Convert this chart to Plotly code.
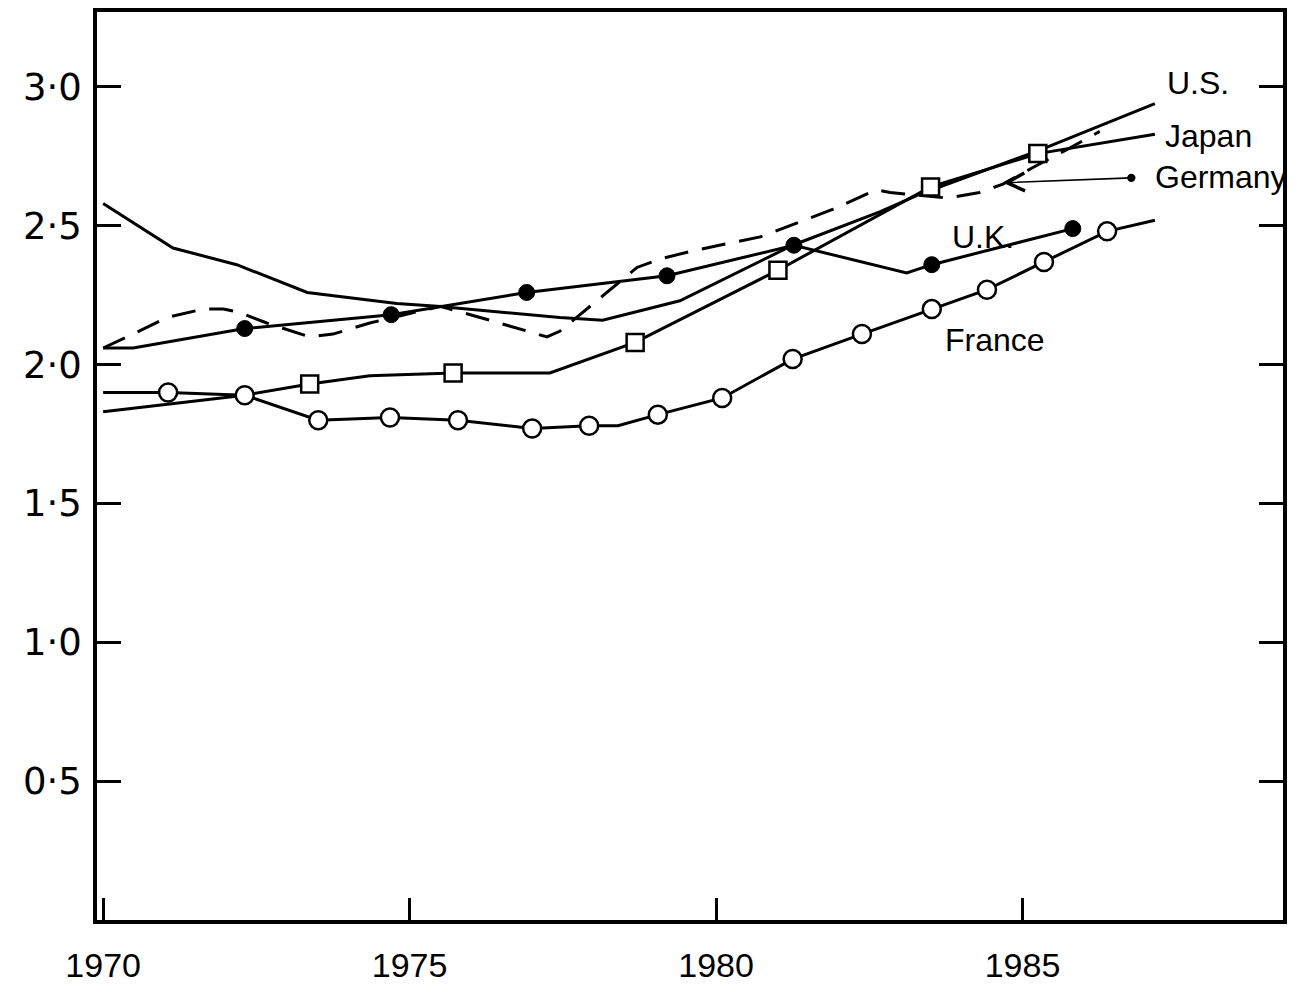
import plotly.graph_objects as go

# ---- data (decimal years, ratio values) ----
us_x = [1970.0, 1971.14, 1972.18, 1973.33, 1974.79, 1975.45, 1977.45, 1978.15, 1979.41,
        1981.25, 1982.67, 1983.28, 1985.25, 1987.16]
us_y = [2.58, 2.42, 2.36, 2.26, 2.22, 2.21, 2.17, 2.16, 2.23,
        2.43, 2.55, 2.61, 2.77, 2.94]

japan_x = [1970.0, 1972.31, 1973.37, 1974.35, 1975.71, 1977.29, 1978.68, 1981.01, 1983.50, 1985.25, 1987.16]
japan_y = [1.83, 1.89, 1.93, 1.96, 1.97, 1.97, 2.08, 2.34, 2.64, 2.76, 2.83]
japan_marker_x = [1973.37, 1975.71, 1978.68, 1981.01, 1983.50, 1985.25]
japan_marker_y = [1.93, 1.97, 2.08, 2.34, 2.64, 2.76]

germany_x = [1970.0, 1970.49, 1971.04, 1971.63, 1971.96, 1972.20, 1972.67, 1973.37, 1973.75,
             1974.35, 1975.50, 1976.15, 1977.24, 1977.45, 1977.78, 1978.71, 1979.08, 1979.62,
             1980.72, 1981.32, 1981.91, 1982.62, 1982.84, 1983.77, 1984.30, 1984.68, 1985.17,
             1985.77, 1986.26]
germany_y = [2.06, 2.11, 2.17, 2.20, 2.20, 2.19, 2.15, 2.10, 2.11,
             2.15, 2.21, 2.17, 2.10, 2.12, 2.18, 2.35, 2.38, 2.41,
             2.46, 2.51, 2.56, 2.63, 2.62, 2.60, 2.62, 2.65, 2.71,
             2.78, 2.84]

uk_x = [1970.0, 1970.49, 1972.31, 1974.70, 1976.91, 1979.20, 1981.27, 1983.11, 1983.52, 1985.82]
uk_y = [2.06, 2.06, 2.13, 2.18, 2.26, 2.32, 2.43, 2.33, 2.36, 2.49]
uk_marker_x = [1972.31, 1974.70, 1976.91, 1979.20, 1981.27, 1983.52, 1985.82]
uk_marker_y = [2.13, 2.18, 2.26, 2.32, 2.43, 2.36, 2.49]

france_x = [1970.0, 1971.06, 1972.31, 1973.51, 1974.68, 1975.79, 1977.00, 1977.93, 1978.40,
            1979.05, 1980.10, 1981.25, 1982.38, 1983.52, 1984.42, 1985.35, 1986.38, 1987.16]
france_y = [1.90, 1.90, 1.89, 1.80, 1.81, 1.80, 1.77, 1.78, 1.78,
            1.82, 1.88, 2.02, 2.11, 2.20, 2.27, 2.37, 2.48, 2.52]
france_marker_x = [1971.06, 1972.31, 1973.51, 1974.68, 1975.79, 1977.00, 1977.93,
                   1979.05, 1980.10, 1981.25, 1982.38, 1983.52, 1984.42, 1985.35, 1986.38]
france_marker_y = [1.90, 1.89, 1.80, 1.81, 1.80, 1.77, 1.78,
                   1.82, 1.88, 2.02, 2.11, 2.20, 2.27, 2.37, 2.48]

x_tickvals = [1970, 1975, 1980, 1985]
x_ticktext = ["1970", "1975", "1980", "1985"]
y_tickvals = [0.5, 1.0, 1.5, 2.0, 2.5, 3.0]
y_ticktext = ["0·5", "1·0", "1·5", "2·0", "2·5", "3·0"]

series_labels = ["U.S.", "Japan", "Germany", "U.K.", "France"]
label_x = [1987.32, 1987.29, 1987.13, 1983.82, 1983.70]
label_y = [3.014, 2.824, 2.676, 2.461, 2.088]

LABEL_FONT = "Liberation Sans, Arial, sans-serif"
LW = 3

fig = go.Figure()

def line(x, y, dash="solid", name=""):
    fig.add_trace(go.Scatter(x=x, y=y, mode="lines", name=name,
                             line=dict(color="black", width=LW, dash=dash),
                             showlegend=False, hoverinfo="skip"))

line(us_x, us_y, name="U.S.")
line(germany_x, germany_y, dash="24px,14px", name="Germany")
line(japan_x, japan_y, name="Japan")
line(uk_x, uk_y, name="U.K.")
line(france_x, france_y, name="France")

fig.add_trace(go.Scatter(x=japan_marker_x, y=japan_marker_y, mode="markers", showlegend=False,
                         marker=dict(symbol="square", size=17, color="white",
                                     line=dict(color="black", width=2.5)), hoverinfo="skip"))
fig.add_trace(go.Scatter(x=uk_marker_x, y=uk_marker_y, mode="markers", showlegend=False,
                         marker=dict(symbol="circle", size=16, color="black",
                                     line=dict(color="black", width=1)), hoverinfo="skip"))
fig.add_trace(go.Scatter(x=france_marker_x, y=france_marker_y, mode="markers", showlegend=False,
                         marker=dict(symbol="circle", size=18, color="white",
                                     line=dict(color="black", width=2.5)), hoverinfo="skip"))

for t, lx, ly in zip(series_labels, label_x, label_y):
    fig.add_annotation(x=lx, y=ly, text=t, showarrow=False, xanchor="left", yanchor="middle",
                       font=dict(family=LABEL_FONT, size=32, color="black"))

# Germany pointer arrow
fig.add_annotation(x=1984.68, y=2.655, ax=1986.80, ay=2.673, axref="x", ayref="y",
                   text="", showarrow=True, arrowhead=5, arrowsize=2.2, arrowwidth=1.6,
                   arrowcolor="black", arrowside="end+start", startarrowhead=6, startarrowsize=1.3)

fig.update_layout(
    width=1299, height=992,
    margin=dict(l=97, r=16, t=8, b=55),
    paper_bgcolor="white", plot_bgcolor="white",
    showlegend=False,
)
fig.update_xaxes(range=[1969.9, 1989.25], tickmode="array", tickvals=x_tickvals, ticktext=x_ticktext,
                 ticks="inside", ticklen=22, tickwidth=2.5, tickcolor="black",
                 showline=True, linecolor="black", linewidth=3.5, mirror=True,
                 showgrid=False, zeroline=False,
                 tickfont=dict(family=LABEL_FONT, size=34, color="black"), ticklabelstandoff=12)
fig.update_yaxes(range=[0, 3.27], tickmode="array", tickvals=y_tickvals, ticktext=y_ticktext,
                 ticks="inside", ticklen=24, tickwidth=2.5, tickcolor="black",
                 showline=True, linecolor="black", linewidth=3.5, mirror="ticks",
                 showgrid=False, zeroline=False,
                 tickfont=dict(family="DejaVu Sans, sans-serif", size=37, color="black"),
                 ticklabelstandoff=4)

fig.write_html("out.html", config={"displayModeBar": False},
               post_script="document.body.style.margin='0';document.body.style.overflow='hidden';")
